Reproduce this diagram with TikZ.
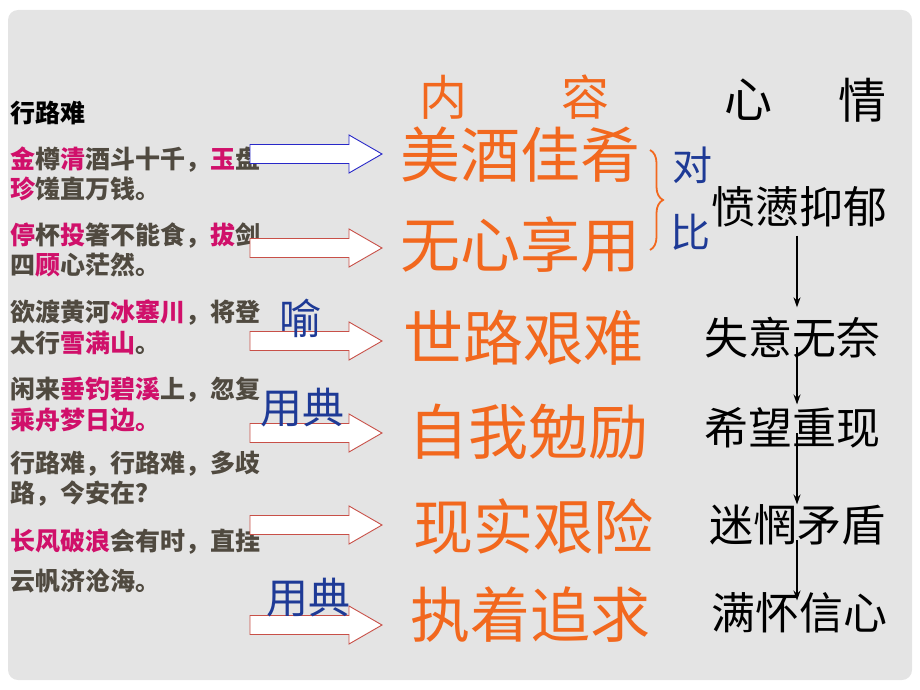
\documentclass[tikz,border=0pt]{standalone}
\usepackage{fontspec}
\setmainfont{Noto Sans CJK SC}
\usetikzlibrary{arrows.meta,decorations.pathreplacing}
\definecolor{fond}{RGB}{228,228,228}
\definecolor{brun}{RGB}{80,74,64}
\definecolor{rose}{RGB}{208,16,106}
\definecolor{orangevif}{RGB}{242,104,30}
\definecolor{bleu}{RGB}{30,58,150}
\definecolor{bleuvif}{RGB}{40,40,200}
\definecolor{rouge}{RGB}{200,80,72}
\newcommand{\enrose}[1]{\textcolor{rose}{#1}}

\begin{document}
\begin{tikzpicture}[x=1pt,y=-1pt]
\tikzset{vers/.style={anchor=west, inner sep=0pt, text=brun, font=\bfseries\fontsize{25}{28}\selectfont},
  contenu/.style={inner sep=0pt, text=orangevif, font=\fontsize{60}{64}\selectfont},
  titre/.style={inner sep=0pt, font=\fontsize{48}{52}\selectfont},
  humeur/.style={inner sep=0pt, text=black, font=\fontsize{44}{48}\selectfont},
  procede/.style={inner sep=0pt, text=bleu, font=\fontsize{42}{46}\selectfont},
  fl/.style={line width=1.5pt, -{Stealth[length=10pt,width=7pt]}}}
\useasboundingbox (0,0) rectangle (920,690);
\fill[fond, rounded corners=10pt] (8,10) rectangle (912,680);
% poeme
\node[vers, text=black] (T) at (10,113) {行路难};
\node[vers] (L1a) at (10,160) {\enrose{金}樽\enrose{清}酒斗十千，\enrose{玉}盘};
\node[vers] (L1b) at (10,189) {\enrose{珍}馐直万钱。};
\node[vers] (L2a) at (10,236) {\enrose{停}杯\enrose{投}箸不能食，\enrose{拔}剑};
\node[vers] (L2b) at (10,265) {四\enrose{顾}心茫然。};
\node[vers] (L3a) at (10,313) {欲渡黄河\enrose{冰塞川}，将登};
\node[vers] (L3b) at (10,343) {太行\enrose{雪满山}。};
\node[vers] (L4a) at (10,390) {闲来\enrose{垂钓碧溪}上，忽复};
\node[vers] (L4b) at (10,420) {\enrose{乘舟梦日边。}};
\node[vers] (L5a) at (10,464) {行路难，行路难，多歧};
\node[vers] (L5b) at (10,494) {路，今安在？};
\node[vers] (L6a) at (10,542) {\enrose{长风破浪}会有时，直挂};
\node[vers] (L6b) at (10,581) {云帆济沧海。};
% fleches
\foreach \y/\c in {154/bleuvif, 248/rouge, 341/rouge, 433/rouge, 525/rouge, 625/rouge}
  \draw[draw=\c, line width=0.9pt, fill=white] (250,{\y-9.5}) -- (349,{\y-9.5}) -- (349,{\y-19}) -- (382,\y)
    -- (349,{\y+19}) -- (349,{\y+9.5}) -- (250,{\y+9.5}) -- cycle;
% contenu
\node[titre, text=orangevif] (N) at (443,97) {内};
\node[titre, text=orangevif] (R) at (585,97) {容};
\node[titre] (X) at (748,100) {心};
\node[titre] (Q) at (862,100) {情};
\node[contenu] (C1) at (520,155) {美酒佳肴};
\node[contenu] (C2) at (520,245) {无心享用};
\node[contenu] (C3) at (523,338) {世路艰难};
\node[contenu] (C4) at (528,432) {自我勉励};
\node[contenu] (C5) at (533,527) {现实艰险};
\node[contenu] (C6) at (530,615) {执着追求};
\draw[orangevif, line width=1.8pt, decorate, decoration={brace, amplitude=13pt}] (650,150) -- (650,250);
\node[procede, font=\fontsize{40}{44}\selectfont] (B1) at (692,165) {对};
\node[procede, font=\fontsize{40}{44}\selectfont] (B2) at (690,232) {比};
\node[procede] (Y1) at (300,318) {喻};
\node[procede] (Y2) at (302,408) {用典};
\node[procede] (Y3) at (308,598) {用典};
% sentiments
\node[humeur] (M1) at (799,207) {愤懑抑郁};
\node[humeur] (M2) at (792,338) {失意无奈};
\node[humeur] (M3) at (792,428) {希望重现};
\node[humeur] (M4) at (797,525) {迷惘矛盾};
\node[humeur] (M5) at (799,613) {满怀信心};
\coordinate (axe) at (797,0);
\draw[fl] ([yshift=-8pt]M1.south -| axe) -- ([yshift=10pt]M2.north -| axe);
\draw[fl] ([yshift=-9pt]M2.center -| axe) -- ([yshift=3pt]M3.north -| axe);
\draw[fl] ([yshift=-5pt]M3.center -| axe) -- (M4.north -| axe);
\draw[fl] ([yshift=-15pt]M4.center -| axe) -- ([yshift=-8pt]M5.north -| axe);
\end{tikzpicture}
\end{document}
